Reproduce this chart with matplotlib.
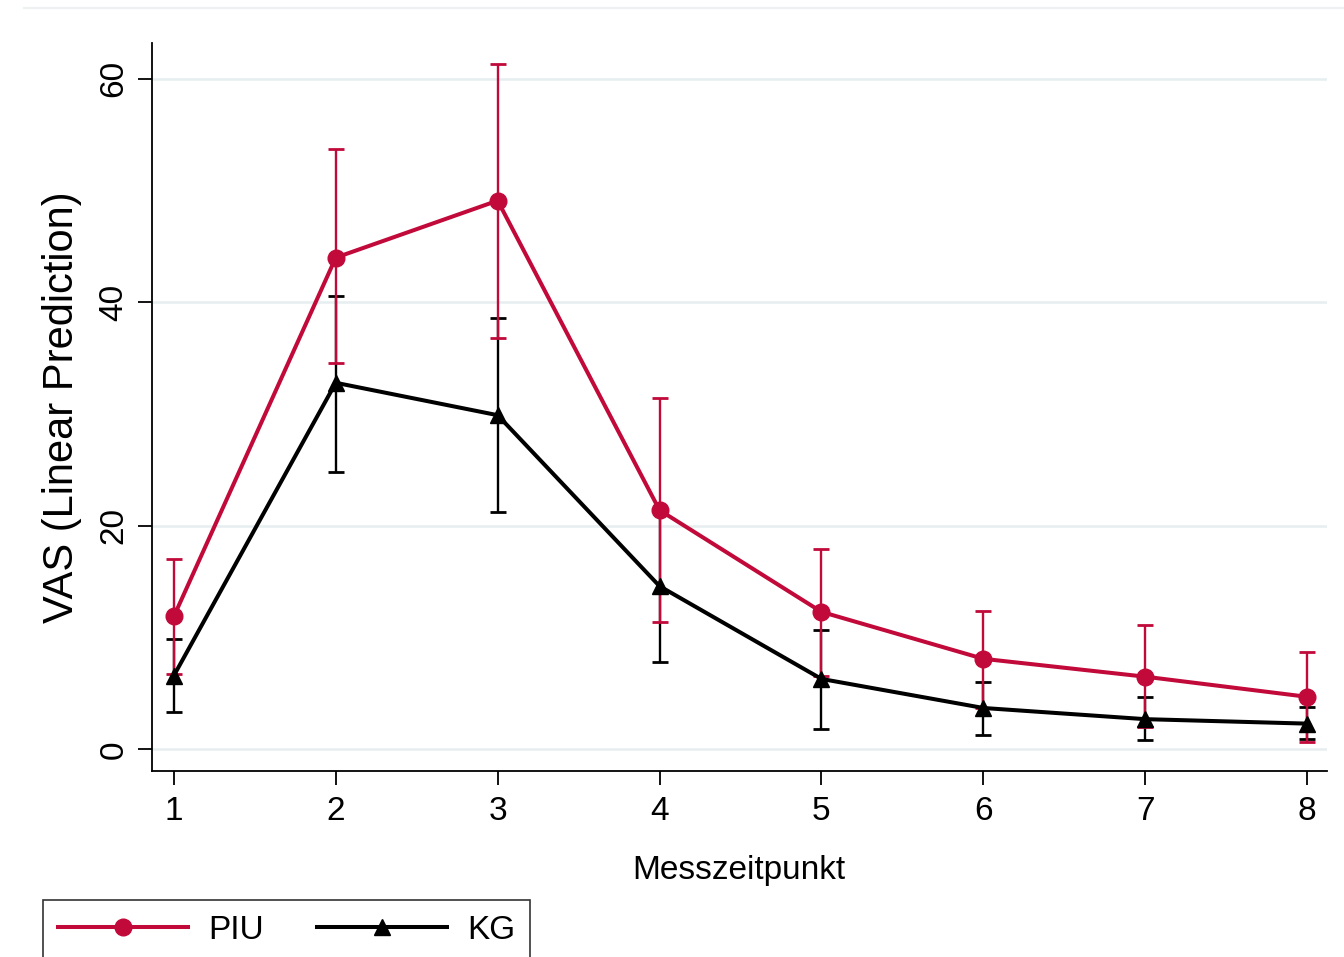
import numpy as np
import matplotlib.pyplot as plt
from matplotlib.lines import Line2D

plt.rcParams['font.family'] = ['Liberation Sans', 'DejaVu Sans']

zeitpunkt = [1, 2, 3, 4, 5, 6, 7, 8]
# PIU: Schaetzwert, untere / obere Grenze
piu = [11.9, 44.0, 49.1, 21.4, 12.3, 8.1, 6.5, 4.7]
piu_lo = [6.7, 34.6, 36.8, 11.4, 6.6, 3.7, 2.0, 0.7]
piu_hi = [17.0, 53.7, 61.3, 31.4, 17.9, 12.4, 11.1, 8.7]
# KG
kg = [6.6, 32.8, 29.9, 14.6, 6.3, 3.7, 2.7, 2.3]
kg_lo = [3.3, 24.8, 21.2, 7.8, 1.8, 1.3, 0.8, 0.9]
kg_hi = [9.9, 40.6, 38.6, 21.4, 10.7, 6.0, 4.7, 3.8]

rot = '#c1093a'

fig = plt.figure(figsize=(13.44, 9.57), dpi=100)
ax = fig.add_axes([0.113, 0.194, 0.874, 0.761])

x = np.array(zeitpunkt)
# Konfidenzintervalle
ax.errorbar(x, kg, yerr=[np.array(kg) - kg_lo, np.array(kg_hi) - kg], fmt='none',
            ecolor='black', elinewidth=1.7, capsize=6, capthick=2.0, zorder=2)
ax.errorbar(x, piu, yerr=[np.array(piu) - piu_lo, np.array(piu_hi) - piu], fmt='none',
            ecolor=rot, elinewidth=1.7, capsize=6, capthick=2.0, zorder=2)
# Linien
ax.plot(x, piu, color=rot, lw=2.9, marker='o', ms=12, label='PIU', zorder=3)
ax.plot(x, kg, color='black', lw=2.9, marker='^', ms=12, label='KG', zorder=4)

ax.set_xlim(0.864, 8.12)
ax.set_ylim(-1.97, 63.2)
ax.set_xticks(zeitpunkt)
ax.set_yticks([0, 20, 40, 60])
ax.tick_params(axis='both', labelsize=24, length=10, width=1.3, color='black')
for lab in ax.get_yticklabels():
    lab.set_rotation(90)
    lab.set_va('center')
ax.tick_params(axis='x', pad=8)
ax.tick_params(axis='y', pad=6)
ax.grid(axis='y', color='#e6eef0', lw=1.8)
ax.set_axisbelow(True)
for s in ['top', 'right']:
    ax.spines[s].set_visible(False)
for s in ['left', 'bottom']:
    ax.spines[s].set_linewidth(1.3)

ax.set_ylabel('VAS (Linear Prediction)', fontsize=30, labelpad=12)
ax.set_xlabel('Messzeitpunkt', fontsize=24, labelpad=20)

fig.legend(loc='upper left', bbox_to_anchor=(0.032, 1 - 900 / 957), ncol=2,
           fontsize=24, frameon=True, fancybox=False, edgecolor='black',
           handlelength=3.9, handletextpad=0.6, columnspacing=1.6, borderpad=0.45,
           borderaxespad=0).get_frame().set_linewidth(1.2)

# duenne Linie am oberen Rand
fig.add_artist(Line2D([0.018, 1.0], [0.992, 0.992], color='#eef1f2', lw=1.5))

fig.savefig('out.png', dpi=100)
